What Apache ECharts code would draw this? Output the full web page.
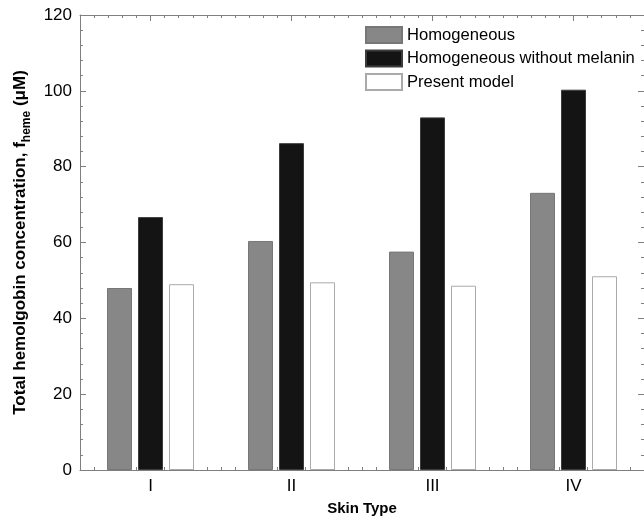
<!DOCTYPE html>
<html>
<head>
<meta charset="utf-8">
<script src="https://cdn.jsdelivr.net/npm/echarts@6/dist/echarts.min.js"></script>
<style>
  html, body { margin: 0; padding: 0; background: #fff; }
  #chart { width: 644px; height: 521px; }
</style>
</head>
<body>
<div id="chart"></div>
<script>
// Data
const skinTypes = ['I', 'II', 'III', 'IV'];
const homogeneous = [48.0, 60.4, 57.6, 73.1];
const withoutMelanin = [66.7, 86.2, 93.0, 100.3];
const presentModel = [49.0, 49.5, 48.6, 51.1];
const seriesNames = ['Homogeneous', 'Homogeneous without melanin', 'Present model'];

// 10 minor tick slots per skin type (ticks every 0.1 of a category)
const minorSlots = Array.from({ length: skinTypes.length * 10 }, () => '');

const FONT = '"Liberation Sans", Arial, sans-serif';
const AXIS_COLOR = '#7f7f7f';

const chart = echarts.init(document.getElementById('chart'), null, { renderer: 'canvas' });

function majorX(position) {
    return {
        type: 'category',
        position: position,
        data: skinTypes,
        boundaryGap: true,
        axisLine: { lineStyle: { color: AXIS_COLOR, width: 1 } },
        axisTick: { show: true, inside: true, alignWithLabel: true, length: 6, lineStyle: { color: AXIS_COLOR } },
        axisLabel: { show: position === 'bottom', color: '#000', fontFamily: FONT, fontSize: 17, margin: 8 },
        splitLine: { show: false }
    };
}

function minorX(position) {
    return {
        type: 'category',
        position: position,
        data: minorSlots,
        boundaryGap: true,
        axisLine: { show: false },
        axisTick: { show: true, inside: true, interval: 0, length: 3, lineStyle: { color: AXIS_COLOR } },
        axisLabel: { show: false },
        splitLine: { show: false }
    };
}

function valueY(position) {
    return {
        type: 'value',
        position: position,
        min: 0,
        max: 120,
        interval: 20,
        axisLine: { show: true, lineStyle: { color: AXIS_COLOR, width: 1 } },
        axisTick: { show: true, inside: true, length: 6, lineStyle: { color: AXIS_COLOR } },
        minorTick: { show: true, splitNumber: 5, length: 3, lineStyle: { color: AXIS_COLOR } },
        axisLabel: { show: position === 'left', color: '#000', fontFamily: FONT, fontSize: 17, margin: 8 },
        splitLine: { show: false }
    };
}

const xAxes = [majorX('bottom'), minorX('bottom'), majorX('top'), minorX('top')];
xAxes[0].name = 'Skin Type';
xAxes[0].nameLocation = 'middle';
xAxes[0].nameGap = 31;
xAxes[0].nameTextStyle = { fontFamily: FONT, fontSize: 15, fontWeight: 'bold', color: '#000' };

const yAxes = [valueY('left'), valueY('right')];
yAxes[0].name = '{m|Total hemolgobin concentration, f}{s|heme}{m| (\u03bcM)}';
yAxes[0].nameLocation = 'middle';
yAxes[0].nameGap = 48;
yAxes[0].nameTextStyle = {
    fontFamily: FONT,
    fontSize: 17,
    fontWeight: 'bold',
    color: '#000',
    rich: {
        m: { fontFamily: FONT, fontSize: 17, fontWeight: 'bold', color: '#000', lineHeight: 20, verticalAlign: 'top' },
        s: { fontFamily: FONT, fontSize: 12, fontWeight: 'bold', color: '#000', lineHeight: 12, padding: [9, 0, 0, 0], verticalAlign: 'top' }
    }
};

function barSeries(name, values, fill, border) {
    return {
        name: name,
        type: 'bar',
        xAxisIndex: 0,
        yAxisIndex: 0,
        data: values,
        barWidth: 25,
        barGap: '24%',
        itemStyle: { color: fill, borderColor: border, borderWidth: 1 }
    };
}

const option = {
    backgroundColor: '#fff',
    animation: false,
    grid: { left: 80, right: 0, top: 15, bottom: 48, containLabel: false },
    legend: {
        orient: 'vertical',
        left: 360,
        top: 21,
        itemWidth: 36,
        itemHeight: 16,
        itemGap: 5.5,
        icon: 'rect',
        textStyle: { fontFamily: FONT, fontSize: 16.6, color: '#000' },
        data: seriesNames
    },
    xAxis: xAxes,
    yAxis: yAxes,
    series: [
        barSeries(seriesNames[0], homogeneous, '#878787', '#777777'),
        barSeries(seriesNames[1], withoutMelanin, '#141414', '#3c3c3c'),
        barSeries(seriesNames[2], presentModel, '#ffffff', '#aaaaaa')
    ]
};

chart.setOption(option);
</script>
</body>
</html>
